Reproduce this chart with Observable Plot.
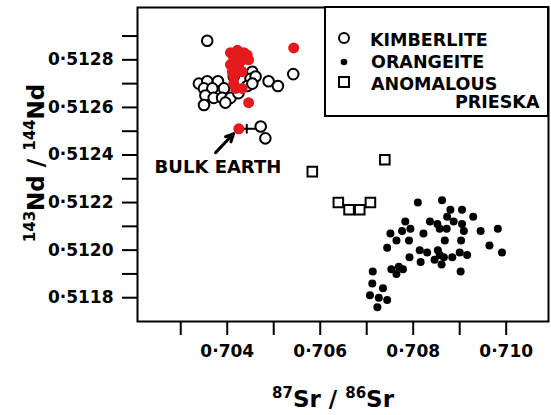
<!DOCTYPE html>
<html><head><meta charset="utf-8">
<script src="https://cdn.jsdelivr.net/npm/d3@7"></script>
<script src="https://cdn.jsdelivr.net/npm/@observablehq/plot@0.6"></script>
<style>body{margin:0;background:#fff}svg{display:block}</style>
</head><body><div id="chart"></div>
<script>
// Kimberlite (open circles)
const kimSr = [0.70357,0.70542,0.70489,0.70509,0.70339,0.70357,0.70380,0.70350,0.70368,0.70393,0.70353,0.70371,0.70389,0.70407,0.70350,0.70454,0.70450,0.70461,0.70443,0.70454,0.70414,0.70472,0.70482,0.70424,0.70396];
const kimNd = [0.51288,0.51274,0.51271,0.51269,0.51270,0.51271,0.51271,0.51268,0.51268,0.51268,0.51265,0.51264,0.51264,0.51264,0.51261,0.51275,0.51272,0.51273,0.51269,0.51270,0.51273,0.51252,0.51247,0.51266,0.51262];
// Kimberlite highlighted in red
const redSr = [0.70407,0.70422,0.70436,0.70443,0.70414,0.70432,0.70446,0.70407,0.70425,0.70411,0.70432,0.70414,0.70414,0.70418,0.70432,0.70446,0.70543];
const redNd = [0.51283,0.51284,0.51283,0.51282,0.51281,0.51280,0.51280,0.51278,0.51278,0.51275,0.51275,0.51273,0.51270,0.51268,0.51268,0.51262,0.51285];
// Orangeite (filled dots)
const oraSr = [0.70810,0.70862,0.70880,0.70905,0.70929,0.70873,0.70783,0.70836,0.70852,0.70887,0.70905,0.70794,0.70776,0.70751,0.70857,0.70872,0.70909,0.70945,0.70982,0.70822,0.70764,0.70791,0.70868,0.70903,0.70744,0.70964,0.70991,0.70814,0.70830,0.70853,0.70857,0.70846,0.70866,0.70884,0.70900,0.70916,0.70792,0.70816,0.70861,0.70753,0.70769,0.70778,0.70764,0.70902,0.70713,0.70712,0.70735,0.70707,0.70726,0.70744,0.70723];
const oraNd = [0.51220,0.51221,0.51217,0.51217,0.51214,0.51214,0.51212,0.51212,0.51211,0.51212,0.51211,0.51209,0.51208,0.51207,0.51209,0.51209,0.51208,0.51208,0.51209,0.51207,0.51204,0.51204,0.51204,0.51204,0.51201,0.51202,0.51199,0.51200,0.51199,0.51200,0.51198,0.51196,0.51197,0.51197,0.51199,0.51198,0.51197,0.51195,0.51194,0.51192,0.51193,0.51192,0.51190,0.51191,0.51191,0.51186,0.51184,0.51181,0.51180,0.51179,0.51176];
// Anomalous Prieska (open squares)
const priSr = [0.70583,0.70739,0.70639,0.70662,0.70685,0.70708];
const priNd = [0.51233,0.51238,0.51220,0.51217,0.51217,0.51220];
// Bulk Earth
const bulkSr = [0.70425];
const bulkNd = [0.51251];
const bulkLabel = ["BULK EARTH"];
const bulkLabelSr = [0.70380];
const bulkLabelNd = [0.51235];
const arrowSr = [0.70375, 0.70414];
const arrowNd = [0.51241, 0.51249];
const bulkBarSr = [0.70425, 0.70461, 0.70442];
const bulkBarNd = [0.51251, 0.512493, 0.512527];

// Axes
const xDomain = [0.70207, 0.71091];
const yDomain = [0.51170, 0.51302];
const xTicks = [0.703,0.704,0.705,0.706,0.707,0.708,0.709,0.710];
const xTickLabels = ["","0·704","","0·706","","0·708","","0·710"];
const yTicks = [0.5118,0.5119,0.5120,0.5121,0.5122,0.5123,0.5124,0.5125,0.5126,0.5127,0.5128,0.5129];
const yTickLabels = ["0·5118","","0·5120","","0·5122","","0·5124","","0·5126","","0·5128",""];
const legendLabels = ["KIMBERLITE","ORANGEITE","ANOMALOUS","PRIESKA"];

const zip = (xs, ys) => xs.map((x, i) => ({x, y: ys[i]}));
const kim = zip(kimSr, kimNd), red = zip(redSr, redNd), ora = zip(oraSr, oraNd), pri = zip(priSr, priNd);
const bulk = zip(bulkSr, bulkNd);
const fmt = (ticks, labels) => d => { const i = ticks.findIndex(t => Math.abs(t - d) < 1e-8); return i < 0 ? "" : labels[i]; };

const svg = Plot.plot({
  width: 551, height: 415,
  marginLeft: 137, marginRight: 3, marginTop: 7, marginBottom: 94,
  style: {fontFamily: "DejaVu Sans", fontSize: "17px", fontWeight: "bold", background: "white", color: "black", overflow: "visible"},
  x: {domain: xDomain},
  y: {domain: yDomain},
  marks: [
    Plot.axisX({ticks: xTicks, tickSize: 14, tickPadding: 9, strokeWidth: 2, tickFormat: fmt(xTicks, xTickLabels), label: null}),
    Plot.axisY({ticks: yTicks, tickSize: 15, tickPadding: 9, strokeWidth: 2, tickFormat: fmt(yTicks, yTickLabels), label: null}),
    Plot.frame({stroke: "black", strokeWidth: 2}),
    Plot.dot(ora, {x: "x", y: "y", r: 4, fill: "black", stroke: "none"}),
    Plot.dot(pri, {x: "x", y: "y", symbol: "square", r: 5.4, fill: "white", stroke: "black", strokeWidth: 2}),
    Plot.dot(kim, {x: "x", y: "y", r: 5.3, fill: "white", stroke: "black", strokeWidth: 2}),
    Plot.dot(red, {x: "x", y: "y", r: 5.5, fill: "#e41a1c", stroke: "none"}),
    Plot.line([{x: bulkBarSr[0], y: bulkNd[0]}, {x: bulkBarSr[1], y: bulkNd[0]}], {x: "x", y: "y", stroke: "black", strokeWidth: 2}),
    Plot.line([{x: bulkBarSr[2], y: bulkBarNd[1]}, {x: bulkBarSr[2], y: bulkBarNd[2]}], {x: "x", y: "y", stroke: "black", strokeWidth: 2}),
    Plot.dot(bulk, {x: "x", y: "y", r: 5.5, fill: "#e41a1c", stroke: "none"}),
    Plot.arrow([{x1: arrowSr[0], y1: arrowNd[0], x2: arrowSr[1], y2: arrowNd[1]}], {x1: "x1", y1: "y1", x2: "x2", y2: "y2", stroke: "black", strokeWidth: 3, headLength: 9, headAngle: 50}),
    Plot.text(bulkLabel.map((t, i) => ({t, x: bulkLabelSr[i], y: bulkLabelNd[i]})), {x: "x", y: "y", text: "t", fontSize: 18, fontWeight: "bold", fill: "black", textAnchor: "middle", style: "letter-spacing:1.2px"})
  ]
});

const s = d3.select(svg);
// Axis titles
const xt = s.append("text").attr("x", 333).attr("y", 407).attr("text-anchor", "middle")
  .attr("font-family", "DejaVu Sans").attr("font-weight", "bold").attr("font-size", 23).attr("fill", "black");
xt.append("tspan").attr("font-size", 15).attr("dy", -9).text("87");
xt.append("tspan").attr("dy", 9).text("Sr / ");
xt.append("tspan").attr("font-size", 15).attr("dy", -9).text("86");
xt.append("tspan").attr("dy", 9).text("Sr");

const yt = s.append("text").attr("transform", "translate(44,163) rotate(-90)").attr("text-anchor", "middle")
  .attr("font-family", "DejaVu Sans").attr("font-weight", "bold").attr("font-size", 23).attr("fill", "black");
yt.append("tspan").attr("font-size", 15).attr("dy", -9).text("143");
yt.append("tspan").attr("dy", 9).text("Nd / ");
yt.append("tspan").attr("font-size", 15).attr("dy", -9).text("144");
yt.append("tspan").attr("dy", 9).text("Nd");

// Legend
const lg = s.append("g").attr("font-family", "DejaVu Sans").attr("font-weight", "bold").attr("font-size", 17.5).attr("fill", "black").attr("text-anchor", "start");
lg.append("rect").attr("x", 325).attr("y", 7).attr("width", 223).attr("height", 109).attr("fill", "white").attr("stroke", "black").attr("stroke-width", 2);
lg.append("circle").attr("cx", 344).attr("cy", 38).attr("r", 5).attr("fill", "white").attr("stroke", "black").attr("stroke-width", 2);
lg.append("circle").attr("cx", 344).attr("cy", 62).attr("r", 3.3).attr("fill", "black");
lg.append("rect").attr("x", 339).attr("y", 77).attr("width", 10).attr("height", 10).attr("fill", "white").attr("stroke", "black").attr("stroke-width", 2);
lg.append("text").attr("text-anchor", "start").attr("x", 370).attr("y", 46).text(legendLabels[0]);
lg.append("text").attr("text-anchor", "start").attr("x", 371).attr("y", 68).text(legendLabels[1]);
lg.append("text").attr("text-anchor", "start").attr("x", 371).attr("y", 90).text(legendLabels[2]);
lg.append("text").attr("text-anchor", "start").attr("x", 455).attr("y", 108).text(legendLabels[3]);

document.getElementById("chart").appendChild(svg);
</script>
</body></html>
